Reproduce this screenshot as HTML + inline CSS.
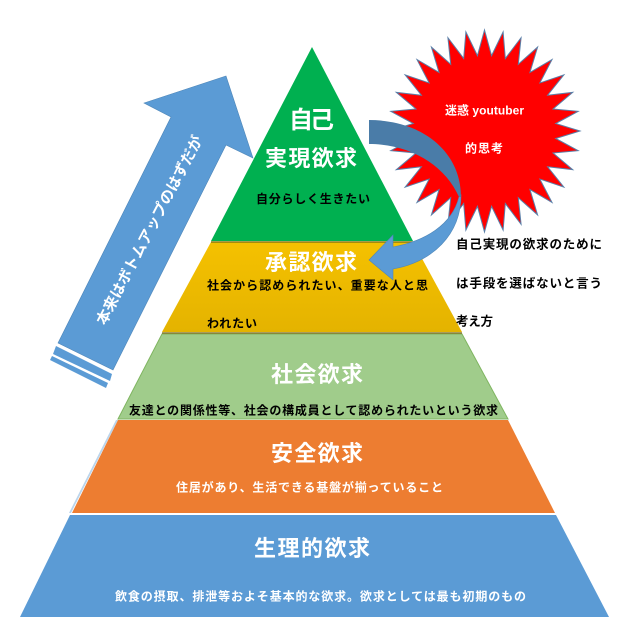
<!DOCTYPE html>
<html lang="ja">
<head>
<meta charset="utf-8">
<title>マズローの欲求段階</title>
<style>
html,body{margin:0;padding:0;background:#fff;width:621px;height:624px;overflow:hidden}
svg{display:block}
text{font-family:"Liberation Sans","Noto Sans CJK JP",sans-serif;font-weight:700}
.w{fill:#fff}
.k{fill:#000}
</style>
</head>
<body>
<svg width="621" height="624" viewBox="0 0 621 624" xmlns="http://www.w3.org/2000/svg">
<defs>
<linearGradient id="y" x1="0" y1="0" x2="0" y2="1">
<stop offset="0" stop-color="#F5C100"/>
<stop offset="1" stop-color="#E4B300"/>
</linearGradient>
</defs>
<rect width="621" height="624" fill="#fff"/>

<!-- pyramid -->
<polygon points="70,515 556,515 609,617 20,617" fill="#5B9BD5"/>
<polygon points="71,513 118,420 116,420 69,513" fill="#BBD5EC"/>
<polygon points="118,420 508,420 555,513 72,513" fill="#ED7D31"/>
<polygon points="162,334 462,334 508,419 118,419" fill="#A0CC8B" stroke="#7FB560" stroke-width="1"/>
<polygon points="211,242 413,242 462,332 162,332" fill="url(#y)"/>
<line x1="162" y1="333" x2="462" y2="333" stroke="#8a7a2a" stroke-width="1.5"/>
<polygon points="312,47 413,241 211,241" fill="#00B050"/>
<line x1="211" y1="242" x2="413" y2="242" stroke="#8a7a10" stroke-width="1.5"/>

<!-- up arrow -->
<polygon points="226,76 253,158 226,145 113,370 58,343 171,117 144,103" fill="#5B9BD5" stroke="#4E86B8" stroke-width=".6"/>
<polygon points="56,346 112,374 110,381 53,354" fill="#5B9BD5"/>
<polygon points="52,356 108,383 106,388 50,360" fill="#5B9BD5"/>
<text class="w" font-size="15" transform="translate(105,326) rotate(-62.3)" textLength="211" lengthAdjust="spacing">本来はボトムアップのはずだが</text>

<!-- star -->
<polygon transform="translate(484.5,131) scale(.955,1.01)" fill="#FF0000" stroke="#5B7FA8" stroke-width="1" vector-effect="non-scaling-stroke"
points="100,0 74.6,-7.4 98.1,-19.5 71.8,-21.8 92.4,-38.3 66.1,-35.4 83.1,-55.6 58,-47.6 70.7,-70.7 47.6,-58 55.6,-83.1 35.4,-66.1 38.3,-92.4 21.8,-71.8 19.5,-98.1 7.4,-74.6 0,-100 -7.4,-74.6 -19.5,-98.1 -21.8,-71.8 -38.3,-92.4 -35.4,-66.1 -55.6,-83.1 -47.6,-58 -70.7,-70.7 -58,-47.6 -83.1,-55.6 -66.1,-35.4 -92.4,-38.3 -71.8,-21.8 -98.1,-19.5 -74.6,-7.4 -100,0 -74.6,7.4 -98.1,19.5 -71.8,21.8 -92.4,38.3 -66.1,35.4 -83.1,55.6 -58,47.6 -70.7,70.7 -47.6,58 -55.6,83.1 -35.4,66.1 -38.3,92.4 -21.8,71.8 -19.5,98.1 -7.4,74.6 0,100 7.4,74.6 19.5,98.1 21.8,71.8 38.3,92.4 35.4,66.1 55.6,83.1 47.6,58 70.7,70.7 58,47.6 83.1,55.6 66.1,35.4 92.4,38.3 71.8,21.8 98.1,19.5 74.6,7.4"/>

<!-- curved arrow -->
<path d="M461,195 C461,235 432,262 393,269 L393,280 L369,260 L393,235 L393,247 C425,241 452,225 459,197 Z" fill="#5B9BD5" stroke="#4E86B8" stroke-width=".6"/>
<path d="M369,120 C420,120 461,150 461,197 L459,197 C445,165 410,144 369,144 Z" fill="#4A7CA8"/>

<!-- labels -->
<text class="w" font-size="24" x="289" y="128" textLength="45" lengthAdjust="spacing">自己</text>
<text class="w" font-size="22" x="265" y="166" textLength="92" lengthAdjust="spacing">実現欲求</text>
<text class="k" font-size="12" x="256" y="203" textLength="114" lengthAdjust="spacing">自分らしく生きたい</text>
<text class="w" font-size="22" x="265" y="270" textLength="92" lengthAdjust="spacing">承認欲求</text>
<text class="k" font-size="12" x="207" y="289.500" textLength="221" lengthAdjust="spacing">社会から認められたい、重要な人と思</text>
<text class="k" font-size="12" x="207" y="327.500" textLength="50" lengthAdjust="spacing">われたい</text>
<text class="w" font-size="22" x="271" y="382" textLength="92" lengthAdjust="spacing">社会欲求</text>
<text class="k" font-size="12" x="129" y="414.500" textLength="369" lengthAdjust="spacing">友達との関係性等、社会の構成員として認められたいという欲求</text>
<text class="w" font-size="22" x="271" y="461" textLength="92" lengthAdjust="spacing">安全欲求</text>
<text class="w" font-size="12" x="176" y="491.500" textLength="267" lengthAdjust="spacing">住居があり、生活できる基盤が揃っていること</text>
<text class="w" font-size="22" x="254" y="556" textLength="116" lengthAdjust="spacing">生理的欲求</text>
<text class="w" font-size="12" x="115" y="600.500" textLength="411" lengthAdjust="spacing">飲食の摂取、排泄等およそ基本的な欲求。欲求としては最も初期のもの</text>
<text class="w" font-size="12" x="445" y="114.500" textLength="79" lengthAdjust="spacing">迷惑 youtuber</text>
<text class="w" font-size="12" x="465" y="152.500" textLength="38" lengthAdjust="spacing">的思考</text>
<text class="k" font-size="12.500" x="456" y="248.500" textLength="146" lengthAdjust="spacing">自己実現の欲求のために</text>
<text class="k" font-size="12.500" x="456" y="287.500" textLength="146" lengthAdjust="spacing">は手段を選ばないと言う</text>
<text class="k" font-size="12.500" x="456" y="325.500" textLength="37" lengthAdjust="spacing">考え方</text>
</svg>
</body>
</html>
